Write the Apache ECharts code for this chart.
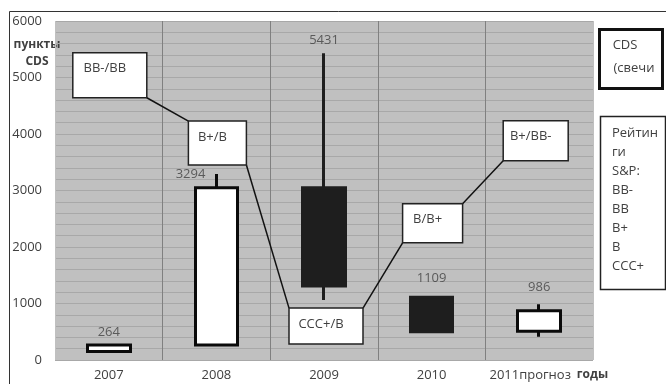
<!DOCTYPE html>
<html>
<head>
<meta charset="utf-8">
<script src="https://cdn.jsdelivr.net/npm/echarts@6/dist/echarts.min.js"></script>
<style>
  html, body { margin: 0; padding: 0; background: #fff; }
  #chart { width: 666px; height: 384px; }
</style>
</head>
<body>
<div id="chart"></div>
<script>
// Годы по оси X
const years = ['2007', '2008', '2009', '2010', '2011прогноз'];
// Свечи CDS, пункты: открытие, закрытие, минимум, максимум
const cdsOpen  = [150, 264, 3050, 1109, 510];
const cdsClose = [264, 3050, 1310, 500, 870];
const cdsLow   = [150, 264, 1060, 500, 410];
const cdsHigh  = [264, 3294, 5431, 1109, 986];
// Рейтинги S&P по годам
const ratings = ['BB-/BB', 'B+/B', 'CCC+/B', 'B/B+', 'B+/BB-'];
// Деления оси Y
const yTicks = [0, 1000, 2000, 3000, 4000, 5000, 6000];
// Шкала рейтингов в легенде
const ratingScale = ['BB-', 'BB', 'B+', 'B', 'CCC+'];

const FONT = '"Open Sans", "DejaVu Sans", sans-serif';
const TEXT = '#404040';
const PLOT_BG = '#c0c0c0';

// Размещение рамок рейтингов: уровень центра (в пунктах), размер, сдвиг
const ratingBoxLayout = [
  { level: 5040, w: 74, h: 45, dx: 1 },
  { level: 3840, w: 58, h: 44, dx: 1 },
  { level: 600,  w: 74, h: 36, dx: 2 },
  { level: 2420, w: 60, h: 39, dx: 1 },
  { level: 3880, w: 65, h: 40, dx: -3.5 }
];

function boxRect(api, i) {
  const b = ratingBoxLayout[i];
  const c = api.coord([i, b.level]);
  const cx = c[0] + b.dx, cy = c[1];
  return { x1: cx - b.w / 2, y1: cy - b.h / 2, x2: cx + b.w / 2, y2: cy + b.h / 2, cx, cy };
}

// Подписи значений над свечами
const labelPlacement = [
  { position: 'top', distance: 6 },
  { position: 'left', distance: 11 },
  { position: 'top', distance: 6 },
  { position: 'top', distance: 13 },
  { position: 'top', distance: 10 }
];

const candleData = years.map((_, i) => [cdsOpen[i], cdsClose[i], cdsLow[i], cdsHigh[i]]);

// Разделители между годами: крайние линии сливаются с фоном
const separatorColors = years.map((_, i) => (i === 0 ? PLOT_BG : '#808080')).concat([PLOT_BG]);

const chart = echarts.init(document.getElementById('chart'), null, { renderer: 'canvas' });

chart.setOption({
  animation: false,
  backgroundColor: '#fff',
  textStyle: { fontFamily: FONT },
  grid: {
    left: 55, right: 73, top: 21, height: 339,
    show: true, backgroundColor: PLOT_BG, borderWidth: 0
  },
  xAxis: {
    type: 'category',
    data: years,
    boundaryGap: true,
    axisLine: { show: false },
    axisTick: { show: false },
    axisLabel: {
      interval: 0,
      color: TEXT, fontSize: 13, fontFamily: FONT, margin: 9,
      formatter: (v, i) => i === years.length - 1 ? '{p|' + v + '}' : v,
      rich: { p: { color: TEXT, fontSize: 13, fontFamily: FONT, padding: [0, 18, 0, 0] } }
    },
    splitLine: {
      show: true,
      interval: 0,
      lineStyle: { color: separatorColors, width: 1 }
    },
    name: 'годы',
    nameLocation: 'end',
    nameGap: -25,
    nameTextStyle: {
      color: TEXT, fontSize: 12, fontWeight: 'bold', fontFamily: FONT,
      align: 'left', verticalAlign: 'top', padding: [9, 0, 0, 0]
    }
  },
  yAxis: {
    type: 'value',
    min: yTicks[0],
    max: yTicks[yTicks.length - 1],
    interval: yTicks[1] - yTicks[0],
    axisLine: { show: false },
    axisTick: { show: false },
    axisLabel: {
      color: TEXT, fontSize: 13, fontFamily: FONT, margin: 13,
      formatter: (v) => String(v)
    },
    splitLine: { show: true, lineStyle: { color: '#a8a8a8', width: 1 } },
    minorTick: { show: false, splitNumber: 5 },
    minorSplitLine: { show: true, lineStyle: { color: '#a8a8a8', width: 1 } }
  },
  series: [
    {
      name: 'CDS',
      type: 'candlestick',
      data: candleData,
      barWidth: 43,
      z: 3,
      itemStyle: {
        color: '#ffffff',
        color0: '#1e1e1e',
        borderColor: '#0a0a0a',
        borderColor0: '#1e1e1e',
        borderWidth: 3
      }
    },
    {
      name: 'значения',
      type: 'scatter',
      symbolSize: 0,
      silent: true,
      z: 4,
      data: years.map((_, i) => ({
        value: [i, cdsHigh[i]],
        label: {
          show: true,
          position: labelPlacement[i].position,
          distance: labelPlacement[i].distance,
          formatter: String(cdsHigh[i]),
          color: TEXT, fontSize: 13, fontFamily: FONT
        }
      }))
    },
    {
      // соединительные линии между рамками рейтингов
      name: 'связи',
      type: 'custom',
      silent: true,
      z: 5,
      data: ratings.slice(0, -1).map((_, i) => [i, ratingBoxLayout[i].level]),
      renderItem: (params, api) => {
        const i = params.dataIndex;
        const a = boxRect(api, i), b = boxRect(api, i + 1);
        let p1, p2;
        if (b.cy > a.cy) { p1 = [a.x2, a.y2]; p2 = [b.x1, b.y1]; }
        else { p1 = [a.x2, a.y1]; p2 = [b.x1, b.y2]; }
        return {
          type: 'line',
          shape: { x1: p1[0], y1: p1[1], x2: p2[0], y2: p2[1] },
          style: { stroke: '#111', lineWidth: 1.5 }
        };
      }
    },
    {
      // рамки с рейтингами S&P
      name: 'рейтинги',
      type: 'custom',
      silent: true,
      z: 6,
      data: ratings.map((_, i) => [i, ratingBoxLayout[i].level]),
      renderItem: (params, api) => {
        const i = params.dataIndex;
        const r = boxRect(api, i);
        return {
          type: 'group',
          children: [
            {
              type: 'rect',
              shape: { x: r.x1, y: r.y1, width: r.x2 - r.x1, height: r.y2 - r.y1 },
              style: { fill: '#fff', stroke: '#222', lineWidth: 1.5 }
            },
            {
              type: 'text',
              style: {
                x: r.cx - 5, y: r.y1 + 16,
                text: ratings[i],
                fill: TEXT, font: '13px ' + FONT,
                align: 'center', verticalAlign: 'middle'
              }
            }
          ]
        };
      }
    }
  ],
  graphic: [
    {
      type: 'rect', silent: true, z: 0,
      shape: { x: 9.5, y: 11.5, width: 700, height: 400 },
      style: { fill: null, stroke: '#333', lineWidth: 1 }
    },
    {
      type: 'text', silent: true,
      style: {
        x: 37, y: 36, text: 'пункты\nCDS',
        font: 'bold 12px ' + FONT, fill: TEXT,
        align: 'center', lineHeight: 17
      }
    },
    {
      type: 'rect', silent: true,
      shape: { x: 599.5, y: 29.5, width: 63, height: 59 },
      style: { fill: '#fff', stroke: '#111', lineWidth: 3 }
    },
    {
      type: 'text', silent: true,
      style: { x: 625, y: 45, text: 'CDS', font: '13px ' + FONT, fill: TEXT, align: 'center', verticalAlign: 'middle' }
    },
    {
      type: 'text', silent: true,
      style: { x: 634, y: 68, text: '(свечи', font: '13px ' + FONT, fill: TEXT, align: 'center', verticalAlign: 'middle' }
    },
    {
      type: 'rect', silent: true,
      shape: { x: 600.5, y: 116.5, width: 65, height: 173 },
      style: { fill: '#fff', stroke: '#222', lineWidth: 1.5 }
    },
    {
      type: 'text', silent: true,
      style: {
        x: 612, y: 124,
        text: ['Рейтин', 'ги', 'S&P:'].concat(ratingScale).join('\n'),
        font: '13px ' + FONT, fill: TEXT, align: 'left', lineHeight: 19
      }
    }
  ]
});
</script>
</body>
</html>
